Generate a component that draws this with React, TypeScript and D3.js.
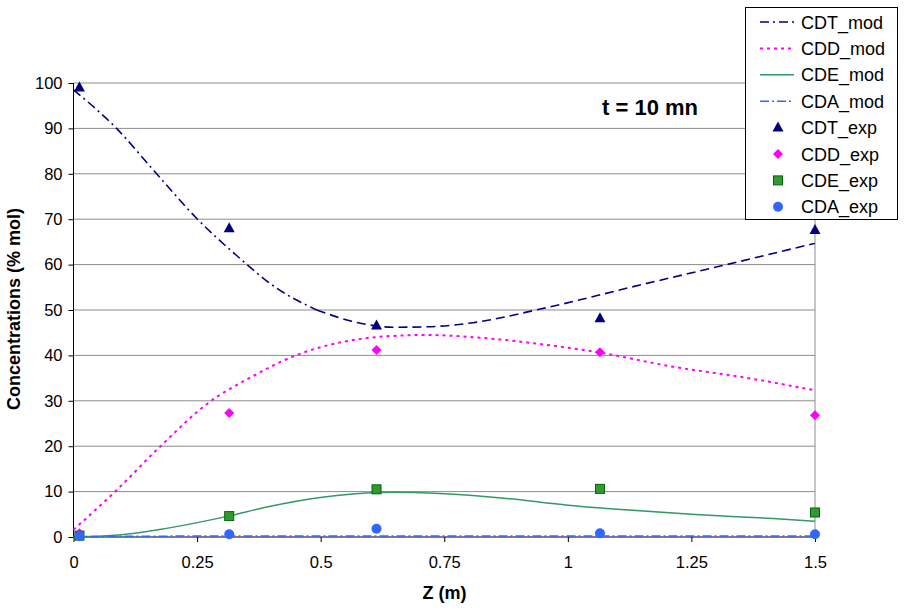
import * as d3 from "d3";
import {useEffect, useRef} from "react";

// model curves (Z in m, concentration % mol)
const cdtModZ = [0, 0.087, 0.161, 0.249, 0.33, 0.411, 0.492, 0.58, 0.646, 0.715, 0.808, 0.944, 1.146, 1.348, 1.5];
const cdtMod = [98.5, 90, 80.9, 70.2, 62, 54.8, 50, 47.1, 46.2, 46.3, 47.2, 50.2, 55.5, 60.7, 64.7];

const cddModZ = [0, 0.087, 0.175, 0.276, 0.354, 0.452, 0.546, 0.62, 0.715, 0.809, 0.944, 1.065, 1.213, 1.348, 1.5];
const cddMod = [1.6, 10.3, 19.9, 29.8, 34.9, 40.1, 43, 44.1, 44.5, 44, 42.5, 40.6, 37.5, 35.3, 32.3];

const cdeModZ = [0, 0.06, 0.12, 0.188, 0.313, 0.391, 0.499, 0.593, 0.647, 0.741, 0.876, 1.0, 1.078, 1.25, 1.415, 1.5];
const cdeMod = [0, 0.2, 0.75, 1.9, 4.6, 6.6, 8.7, 9.7, 9.86, 9.6, 8.5, 7.0, 6.3, 5.0, 4.06, 3.46];

const cdaModZ = [0, 0.25, 0.5, 0.75, 1.0, 1.25, 1.5];
const cdaMod = [0.1, 0.2, 0.2, 0.2, 0.2, 0.2, 0.2];

// experimental points
const expZ = [0.012, 0.315, 0.613, 1.065, 1.5];
const cdtExp = [99, 68, 46.6, 48.2, 67.6];
const cddExp = [0.8, 27.3, 41.2, 40.7, 26.8];
const cdeExp = [0.3, 4.6, 10.5, 10.6, 5.4];
const cdaExp = [0.2, 0.6, 1.8, 0.8, 0.6];

const xTicks = [0, 0.25, 0.5, 0.75, 1, 1.25, 1.5];
const yTicks = [0, 10, 20, 30, 40, 50, 60, 70, 80, 90, 100];

const legendNames = ["CDT_mod", "CDD_mod", "CDE_mod", "CDA_mod", "CDT_exp", "CDD_exp", "CDE_exp", "CDA_exp"];

const NAVY = "#000080";
const PINK = "#ff00ff";
const GREEN = "#339966";
const BLUE = "#3366ff";

function App() {
    const svgRef = useRef(null);

    useEffect(() => {
        const width = 905, height = 616;
        const left = 73.5, right = 815, top = 83, bottom = 537;
        const font = "Liberation Sans, Arial, sans-serif";

        const svg = d3.select(svgRef.current)
            .attr("width", width)
            .attr("height", height);
        svg.selectAll("*").remove();

        svg.append("rect").attr("width", width).attr("height", height).attr("fill", "#fff");

        const x = d3.scaleLinear().domain([0, 1.5]).range([left, right]);
        const y = d3.scaleLinear().domain([0, 100]).range([bottom, top]);

        // grid
        svg.append("g")
            .selectAll("line")
            .data(yTicks.filter(d => d > 0))
            .enter()
            .append("line")
            .attr("x1", left).attr("x2", right)
            .attr("y1", d => y(d)).attr("y2", d => y(d))
            .attr("stroke", "#8c8c8c").attr("stroke-width", 1);

        svg.append("line")
            .attr("x1", right).attr("x2", right).attr("y1", top).attr("y2", bottom)
            .attr("stroke", "#8c8c8c");

        // axes
        const yAxis = svg.append("g")
            .attr("transform", `translate(${left},0)`)
            .call(d3.axisLeft(y).tickValues(yTicks).tickSize(5).tickPadding(6).tickFormat(d3.format("d")));
        yAxis.selectAll("path, line").attr("stroke", "#000");
        yAxis.select(".domain").attr("d", `M0,${top}V${bottom}`);
        yAxis.selectAll("text").attr("font-family", font).attr("font-size", 16.5).attr("fill", "#000");

        const xAxis = svg.append("g")
            .attr("transform", `translate(0,${bottom})`)
            .call(d3.axisBottom(x).tickValues(xTicks).tickSize(5).tickPadding(14).tickFormat(d => String(d)));
        xAxis.selectAll("path, line").attr("stroke", "#000");
        xAxis.select(".domain").attr("d", `M${left},0H${right}`);
        xAxis.selectAll("text").attr("font-family", font).attr("font-size", 16.5).attr("fill", "#000");

        // model lines
        const models = [
            {z: cdtModZ, v: cdtMod, color: NAVY, dash: "9,4,2,4", w: 1.6},
            {z: cddModZ, v: cddMod, color: PINK, dash: "3,4", w: 2},
            {z: cdeModZ, v: cdeMod, color: GREEN, dash: null, w: 1.5},
            {z: cdaModZ, v: cdaMod, color: BLUE, dash: "9,3,2,3", w: 1.5},
        ];
        const line = d3.line().x(d => x(d[0])).y(d => y(d[1])).curve(d3.curveMonotoneX);
        models.forEach((m, k) => {
            const pts = m.z.map((z, i) => [z, m.v[i]]);
            if (k === 0) {
                // dash-dot on the steep part, long dashes after (as in the original export)
                svg.append("path")
                    .attr("d", line(pts.filter(p => p[0] <= 0.492)))
                    .attr("fill", "none").attr("stroke", m.color).attr("stroke-width", m.w)
                    .attr("stroke-dasharray", m.dash);
                svg.append("path")
                    .attr("d", line(pts.filter(p => p[0] >= 0.492)))
                    .attr("fill", "none").attr("stroke", m.color).attr("stroke-width", m.w)
                    .attr("stroke-dasharray", "9,5");
                return;
            }
            svg.append("path")
                .attr("d", line(pts))
                .attr("fill", "none")
                .attr("stroke", m.color)
                .attr("stroke-width", m.w)
                .attr("stroke-dasharray", m.dash);
        });

        // experimental markers
        const drawMarker = (g, kind, cx, cy) => {
            if (kind === 0) {
                g.append("path").attr("d", `M${cx},${cy - 6}L${cx + 5.5},${cy + 4}L${cx - 5.5},${cy + 4}Z`).attr("fill", NAVY);
            } else if (kind === 1) {
                g.append("path").attr("d", `M${cx},${cy - 5}L${cx + 5},${cy}L${cx},${cy + 5}L${cx - 5},${cy}Z`).attr("fill", PINK);
            } else if (kind === 2) {
                g.append("rect").attr("x", cx - 4.5).attr("y", cy - 4.5).attr("width", 9).attr("height", 9)
                    .attr("fill", "#339933").attr("stroke", "#006600").attr("stroke-width", 1);
            } else {
                g.append("circle").attr("cx", cx).attr("cy", cy).attr("r", 5).attr("fill", BLUE);
            }
        };
        const exps = [cdtExp, cddExp, cdeExp, cdaExp];
        const pts = svg.append("g");
        exps.forEach((vals, k) => {
            vals.forEach((v, i) => drawMarker(pts, k, x(expZ[i]), y(v)));
        });

        // title
        svg.append("text")
            .attr("x", 650).attr("y", 115)
            .attr("text-anchor", "middle")
            .attr("font-family", font).attr("font-size", 22).attr("font-weight", "bold")
            .text("t = 10 mn");

        // axis titles
        svg.append("text")
            .attr("x", 444.5).attr("y", 599)
            .attr("text-anchor", "middle")
            .attr("font-family", font).attr("font-size", 18).attr("font-weight", "bold")
            .text("Z (m)");
        svg.append("text")
            .attr("transform", "translate(19.5,309) rotate(-90)")
            .attr("text-anchor", "middle")
            .attr("font-family", font).attr("font-size", 18).attr("font-weight", "bold")
            .text("Concentrations (% mol)");

        // legend
        const lg = svg.append("g");
        lg.append("rect")
            .attr("x", 745.5).attr("y", 7.5).attr("width", 152).attr("height", 212)
            .attr("fill", "#fff").attr("stroke", "#000").attr("stroke-width", 1);
        legendNames.forEach((name, i) => {
            const cy = 22 + i * 26.4;
            if (i < 4) {
                const m = models[i];
                lg.append("line")
                    .attr("x1", 760).attr("x2", 794).attr("y1", cy).attr("y2", cy)
                    .attr("stroke", m.color).attr("stroke-width", m.w)
                    .attr("stroke-dasharray", m.dash);
            } else {
                drawMarker(lg, i - 4, 778, cy);
            }
            lg.append("text")
                .attr("x", 801).attr("y", cy + 6.5)
                .attr("font-family", font).attr("font-size", 18)
                .text(name);
        });
    }, []);

    return (
        <svg ref={svgRef} style={{position: "absolute", left: 0, top: 0}}></svg>
    );
}

export default App;
